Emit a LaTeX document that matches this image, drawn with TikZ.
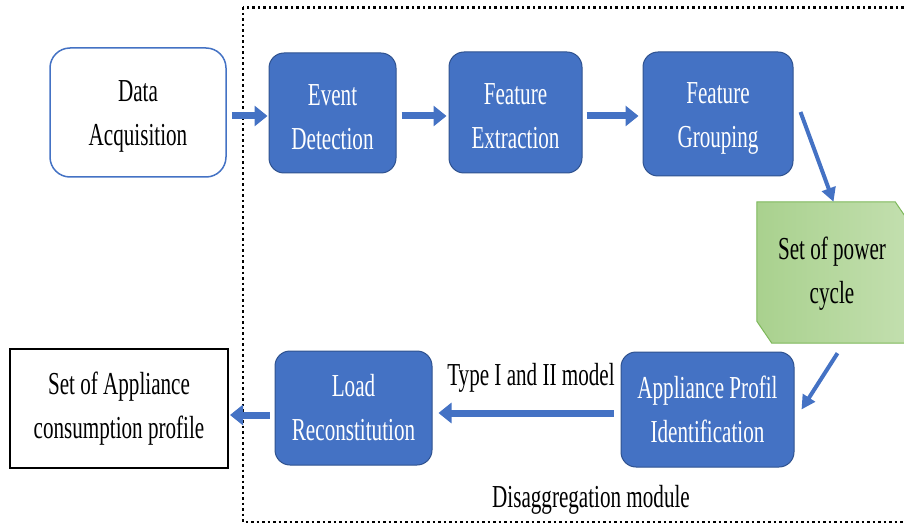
\documentclass[tikz,border=0pt]{standalone}
\usepackage{fontspec}
\setmainfont{Liberation Serif}[FakeStretch=0.66]
\usepackage{tikz}
\usetikzlibrary{calc,positioning,arrows.meta}
\definecolor{procblue}{HTML}{4472C4}
\definecolor{procedge}{HTML}{2F528F}
\definecolor{cycgreen}{HTML}{A9D18E}
\definecolor{cyclight}{HTML}{C3DFAF}
\definecolor{cycedge}{HTML}{7DB85A}

\begin{document}
\begin{tikzpicture}[x=1pt,y=-1pt,
    every node/.style={font=\fontsize{32}{44}\selectfont,align=center,inner sep=0pt},
    procbox/.style={rectangle,rounded corners=15pt,draw=procedge,line width=1pt,fill=procblue,text=white},
    inbox/.style={rectangle,rounded corners=20pt,draw=procblue,line width=1.5pt,fill=white},
    outbox/.style={rectangle,draw=black,line width=2pt,fill=white},
    toprow/.style={text height=73pt},
    flowarrow/.style={draw=procblue,line width=7pt,-{Triangle[width=20pt,length=13pt]}},
    slantarrow/.style={draw=procblue,line width=4pt,-{Triangle[width=14pt,length=14pt]}}]
        \useasboundingbox (0,0) rectangle (904,529);
        \clip (0,0) rectangle (904,529);
        \draw [line width=2.5pt,dash pattern=on 2.5pt off 3pt] (243,7.5) rectangle (914,522);
        \node (acq) [inbox,toprow] at (138,112.5)[minimum width=176pt,minimum height=129pt] {Data\\Acquisition};
        \node (evt) [procbox,toprow] at (332.5,113)[minimum width=127pt,minimum height=120pt] {Event\\Detection};
        \node (fext) [procbox,toprow] at (515.5,112.5)[minimum width=133pt,minimum height=121pt] {Feature\\Extraction};
        \node (fgrp) [procbox,toprow] at (718,114)[minimum width=150pt,minimum height=124pt] {Feature\\Grouping};
        \node (cyc) at (833.5,272.5)[minimum width=153pt,minimum height=141pt] {};
        \draw [cycedge,line width=1pt,left color=cycgreen,right color=cyclight]
            (cyc.north west) -- ($(cyc.north east)+(-15,0)$) -- ($(cyc.north east)+(0,22)$)
            -- (cyc.south east) -- ($(cyc.south west)+(15,0)$) -- ($(cyc.south west)+(0,-22)$) -- cycle;
        \node (cyctxt) at (832,274) {Set of power\\cycle};
        \node (apid) [procbox] at (707.5,409.5)[minimum width=173pt,minimum height=115pt] {Appliance Profil\\Identification};
        \node (load) [procbox] at (353.5,408)[minimum width=157pt,minimum height=114pt] {Load\\Reconstitution};
        \node (prof) [outbox] at (119,408.5)[minimum width=218pt,minimum height=119pt] {Set of Appliance\\consumption profile};
        \node (typelbl) at (531,378) {Type I and II model};
        \node (dismod) at (591,500) {Disaggregation module};
        \draw [flowarrow] ($(acq.east)+(5,3.5)$) -- ($(evt.west)+(-1,3)$);
        \draw [flowarrow] ($(evt.east)+(5,3)$) -- ($(fext.west)+(-2,3.5)$);
        \draw [flowarrow] ($(fext.east)+(4,3.5)$) -- ($(fgrp.west)+(-4,2)$);
        \draw [slantarrow] ($(fgrp.east)+(7,-2)$) -- (cyc.north);
        \draw [slantarrow] ($(cyc.south)+(4,10)$) -- ($(apid.east)+(7,0)$);
        \draw [flowarrow] ($(apid.west)+(-7,3.5)$) -- ($(load.east)+(6,5)$);
        \draw [flowarrow] ($(load.west)+(-5,7)$) -- ($(prof.east)+(1,6.5)$);
    \end{tikzpicture}
\end{document}
